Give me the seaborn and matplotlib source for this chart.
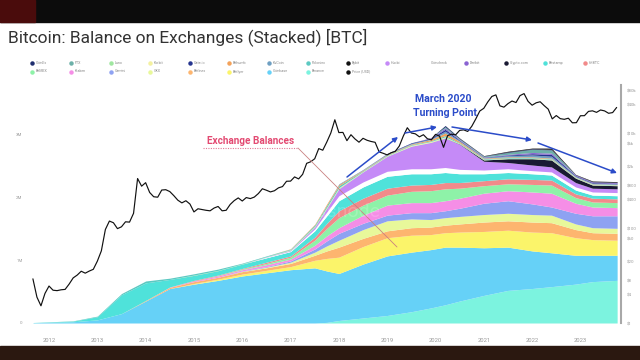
import numpy as np
import matplotlib
matplotlib.use("Agg")
import matplotlib.pyplot as plt
from matplotlib.lines import Line2D
from matplotlib.patches import Rectangle
import seaborn as sns

# ---------------- data ----------------
years = [2012, 2013, 2014, 2015, 2016, 2017, 2018, 2019, 2020, 2021, 2022, 2023]
year_labels = [str(y) for y in years]

# sample dates (decimal years) for the exchange balance stack, values in million BTC
bal_t = [2011.67, 2012.5, 2013.0, 2013.5, 2014.0, 2014.5, 2015.0, 2015.5, 2016.0,
         2016.5, 2017.0, 2017.5, 2017.75, 2018.0, 2018.5, 2019.0, 2019.5, 2019.9,
         2020.2, 2020.5, 2021.0, 2021.5, 2022.0, 2022.4, 2022.9, 2023.25, 2023.76]

binance = [0] * 12 + [0.01, 0.04, 0.08, 0.12, 0.18, 0.24, 0.29, 0.35, 0.44, 0.52,
                      0.55, 0.58, 0.62, 0.66, 0.68]
coinbase = [0.005, 0.02, 0.05, 0.15, 0.35, 0.55, 0.62, 0.68, 0.75, 0.80, 0.85, 0.88,
            0.82, 0.75, 0.86, 0.95, 0.95, 0.93, 0.92, 0.86, 0.76, 0.69, 0.60, 0.54,
            0.46, 0.42, 0.40]
bitflyer = [0] * 6 + [0.01, 0.02, 0.03, 0.04, 0.05, 0.12, 0.20, 0.26, 0.28, 0.29, 0.27,
                      0.24, 0.23, 0.24, 0.26, 0.27, 0.30, 0.32, 0.28, 0.25, 0.24]
bitfinex = [0] * 4 + [0.01, 0.02, 0.03, 0.03, 0.04, 0.04, 0.05, 0.08, 0.12, 0.16, 0.13,
                      0.11, 0.12, 0.12, 0.12, 0.13, 0.15, 0.15, 0.16, 0.16, 0.13, 0.11,
                      0.11]
okx = [0] * 8 + [0.005, 0.01, 0.02, 0.05, 0.08, 0.11, 0.14, 0.16, 0.14, 0.12, 0.12,
                 0.12, 0.12, 0.12, 0.12, 0.12, 0.09, 0.08, 0.08]
gemini = [0] * 8 + [0.005, 0.01, 0.02, 0.05, 0.08, 0.11, 0.10, 0.09, 0.10, 0.11, 0.11,
                    0.13, 0.18, 0.20, 0.17, 0.13, 0.17, 0.19, 0.20]
kraken = [0] * 5 + [0.005, 0.01, 0.02, 0.02, 0.03, 0.03, 0.06, 0.08, 0.09, 0.13, 0.16,
                    0.16, 0.16, 0.16, 0.16, 0.16, 0.16, 0.19, 0.22, 0.16, 0.14, 0.13]
bitmex = [0] * 7 + [0.005, 0.01, 0.02, 0.03, 0.08, 0.12, 0.16, 0.16, 0.16, 0.18, 0.19,
                    0.19, 0.16, 0.12, 0.11, 0.12, 0.13, 0.09, 0.08, 0.08]
hitbtc = [0] * 6 + [0.01, 0.01, 0.01, 0.02, 0.02, 0.05, 0.08, 0.11, 0.11, 0.11, 0.10,
                    0.10, 0.10, 0.09, 0.08, 0.08, 0.08, 0.08, 0.06, 0.06, 0.06]
bitstamp = [0.003, 0.01, 0.05, 0.30, 0.28, 0.12, 0.08, 0.07, 0.07, 0.07, 0.07, 0.10,
            0.12, 0.16, 0.18, 0.19, 0.18, 0.17, 0.16, 0.14, 0.11, 0.10, 0.09, 0.08,
            0.06, 0.05, 0.05]
coincheck = [0] * 9 + [0.01, 0.01, 0.03, 0.06, 0.08, 0.08, 0.08, 0.08, 0.08, 0.08, 0.07,
                       0.06, 0.06, 0.05, 0.05, 0.05, 0.05, 0.05]
huobi = [0] * 9 + [0.005, 0.01, 0.03, 0.06, 0.11, 0.16, 0.24, 0.36, 0.42, 0.47, 0.40,
                   0.14, 0.10, 0.09, 0.08, 0.07, 0.06, 0.06]
crypto_com = [0] * 19 + [0.005, 0.02, 0.06, 0.10, 0.11, 0.07, 0.05, 0.05]
luno = [0] * 6 + [0.005, 0.005, 0.005, 0.005, 0.005, 0.01, 0.01, 0.01, 0.005, 0.005,
                  0.005, 0.005, 0.01, 0.005, 0.005, 0.005, 0.005, 0.005, 0.005, 0.005,
                  0.005]
korbit = [0] * 10 + [0.005, 0.005, 0.01, 0.01, 0.005, 0.005, 0.01, 0.01, 0.01, 0.005,
                     0.005, 0.005, 0.005, 0.005, 0.005, 0.005, 0.005]
poloniex = [0, 0.005, 0.01, 0.02, 0.03, 0.02, 0.02, 0.02, 0.01, 0.01, 0.01, 0.02, 0.03,
            0.03, 0.01, 0.01, 0.01, 0.01, 0.02, 0.01, 0.01, 0.01, 0.01, 0.01, 0.005,
            0.005, 0.005]
bithumb = [0] * 10 + [0.005, 0.01, 0.02, 0.02, 0.01, 0.01, 0.01, 0.02, 0.04, 0.02, 0.01,
                      0.01, 0.01, 0.01, 0.005, 0.005, 0.005]
kucoin = [0] * 13 + [0.01, 0.01, 0.01, 0.01, 0.01, 0.03, 0.01, 0.01, 0.02, 0.03, 0.03,
                     0.01, 0.01, 0.01]
gate_io = [0] * 15 + [0.005, 0.01, 0.01, 0.03, 0.01, 0.005, 0.01, 0.02, 0.03, 0.01,
                      0.01, 0.01]
deribit = [0] * 17 + [0.01, 0.02, 0.01, 0.005, 0.01, 0.02, 0.02, 0.01, 0.01, 0.01]
ftx = [0] * 18 + [0.02, 0.01, 0.01, 0.03, 0.05, 0.05, 0, 0, 0]
coinex = [0] * 18 + [0.02, 0.01, 0.005, 0.01, 0.01, 0.01, 0.005, 0.005, 0.005]
bybit = [0] * 19 + [0.005, 0.005, 0.01, 0.01, 0.02, 0.005, 0.01, 0.01]

# stacking order, bottom to top
stack_names = ["Binance", "Coinbase", "Bitflyer", "Bitfinex", "OKX", "Gemini", "Kraken",
               "BitMEX", "HitBTC", "Bitstamp", "Coincheck", "Huobi", "Crypto.com",
               "Luno", "Korbit", "Poloniex", "Bithumb", "KuCoin", "Gate.io", "Deribit",
               "FTX", "CoinEx", "Bybit"]
stack_values = [binance, coinbase, bitflyer, bitfinex, okx, gemini, kraken, bitmex,
                hitbtc, bitstamp, coincheck, huobi, crypto_com, luno, korbit, poloniex,
                bithumb, kucoin, gate_io, deribit, ftx, coinex, bybit]
stack_colors = ["#7cf3df", "#66d1f7", "#fbf46a", "#fdb56f", "#e8f89a", "#8ea2f2",
                "#f58ee6", "#8ef2a8", "#f28a8a", "#4fe2da", "#ffffff", "#c58af7",
                "#1a1a33", "#9fe6a0", "#f4f1a0", "#5cc9c2", "#f3a25a", "#6e9fc2",
                "#25358f", "#8a63d2", "#6cb0a8", "#1e2e6e", "#111111"]

# BTC price (USD), monthly from Sep 2011 to Oct 2023
price_usd = [8.5, 3.5, 2.3, 4.2,
             6.0, 4.9, 4.8, 5.0, 5.1, 6.6, 8.9, 10.2, 12.3, 11.2, 12.4, 13.5,
             20, 33, 93, 140, 129, 97, 106, 135, 133, 204, 1100, 760,
             900, 560, 455, 445, 630, 640, 585, 480, 385, 338, 375, 320,
             218, 254, 245, 236, 230, 263, 284, 230, 236, 313, 377, 430,
             370, 437, 416, 448, 531, 670, 624, 575, 609, 700, 745, 964,
             970, 1190, 1080, 1350, 2300, 2480, 2870, 4700, 4340, 6450, 10000, 19000,
             10200, 10300, 6900, 9200, 7500, 6400, 7730, 7030, 6630, 6370, 4000, 3740,
             3460, 3850, 4100, 5300, 8600, 12900, 10000, 9600, 8300, 9200, 7550, 7200,
             9350, 8600, 5000, 8800, 9450, 9140, 11350, 11650, 10780, 13800, 19700, 29000,
             33100, 45200, 58800, 63500, 37300, 35000, 41500, 47100, 43800, 61300, 67500, 46300,
             38500, 43200, 45500, 37700, 31800, 19800, 23300, 20050, 19400, 20500, 16400, 16500,
             23100, 23150, 28500, 29300, 27200, 30500, 29200, 26000, 26900, 34500]
price_t = 2011 + 8 / 12 + np.arange(len(price_usd)) / 12

price_ticks = [1, 4, 8, 20, 60, 100, 400, 800, 2000, 6000, 10000, 40000, 80000]
price_labels = ["$1", "$4", "$8", "$20", "$60", "$100", "$400", "$800", "$2k", "$6k",
                "$10k", "$40k", "$80k"]
btc_ticks = [0, 1, 2, 3]
btc_labels = ["0", "1M", "2M", "3M"]

legend_row1 = ["CoinEx", "FTX", "Luno", "Korbit", "Gate.io", "Bithumb", "KuCoin",
               "Poloniex", "Bybit", "Huobi", "Coincheck", "Deribit", "Crypto.com",
               "Bitstamp", "HitBTC"]
legend_row2 = ["BitMEX", "Kraken", "Gemini", "OKX", "Bitfinex", "Bitflyer", "Coinbase",
               "Binance", "Price (USD)"]

# ---------------- figure ----------------
sns.set_theme(style="white")
plt.rcParams["font.family"] = ["Roboto", "DejaVu Sans"]

W, H = 640, 360


def px(x, y):
    # image pixel (top-left origin) -> figure fraction
    return x / W, 1 - y / H


fig = plt.figure(figsize=(6.4, 3.6), dpi=100)
fig.patch.set_facecolor("white")

# dark video frame bands
fig.patches.append(Rectangle((0, 1 - 22 / H), 1, 22 / H, transform=fig.transFigure,
                             color="#0c0c0c", zorder=0))
fig.patches.append(Rectangle((0, 1 - 22 / H), 35 / W, 22 / H, transform=fig.transFigure,
                             color="#4a0c0c", zorder=0))
fig.patches.append(Rectangle((0, 0), 1, 14 / H, transform=fig.transFigure,
                             color="#2b1810", zorder=0))

ax = fig.add_axes([28 / W, 1 - 323 / H, (621 - 28) / W, (323 - 85) / H])
ax.stackplot(bal_t, *stack_values, colors=stack_colors, labels=stack_names, linewidth=0)
ax.set_ylim(0, (323 - 85) / 62.7)
ax.set_xticks(years)
ax.set_xticklabels(year_labels)
ax.set_yticks(btc_ticks)
ax.set_yticklabels(btc_labels)
ax.tick_params(axis="x", length=0, labelsize=4.2, labelcolor="#9a9a9a", pad=11)
ax.tick_params(axis="y", length=0, labelsize=3.2, labelcolor="#9a9a9a", pad=4)
for s in ax.spines.values():
    s.set_visible(False)

ax2 = ax.twinx()
sns.lineplot(x=price_t, y=price_usd, ax=ax2, color="#111111", linewidth=0.85)
ax2.set_yscale("log")
ax2.set_ylim(1, 10 ** ((323 - 85) / 47.5))
ax2.set_yticks(price_ticks)
ax2.set_yticklabels(price_labels)
ax2.yaxis.set_minor_locator(plt.NullLocator())
ax2.tick_params(axis="y", length=0, labelsize=3.2, labelcolor="#9a9a9a", pad=4)
ax2.set_xlabel("")
ax2.set_ylabel("")
for name, s in ax2.spines.items():
    s.set_visible(name == "right")
ax2.spines["right"].set_color("#a8a8a8")
ax2.spines["right"].set_linewidth(1.5)
ax.set_xlim(2011.565, 2023.84)

# title
fig.text(*px(8, 42), "Bitcoin: Balance on Exchanges (Stacked) [BTC]", fontsize=12.5,
         color="#333333", va="baseline", ha="left")

# legend, laid out as in the dashboard
colour_of = dict(zip(stack_names, stack_colors))
colour_of["Price (USD)"] = "#111111"
for row_y, row in ((63, legend_row1), (71.5, legend_row2)):
    for i, name in enumerate(row):
        mx = 31.5 + 39.5 * i
        fig.add_artist(Line2D([mx / W], [1 - row_y / H], marker="o", markersize=2.2,
                              color=colour_of[name], linestyle="none",
                              transform=fig.transFigure))
        fig.text(*px(mx + 4, row_y), name, fontsize=2.6, color="#8a8a8a",
                 va="center", ha="left")

# faint watermark
fig.text(*px(335, 212), "glassnode", fontsize=14, color="white", alpha=0.18,
         ha="center", va="center")

# annotations
blue = "#2b4cc9"
fig.text(*px(443, 99), "March 2020", fontsize=7.6, color=blue, fontweight="bold",
         ha="center", va="center")
fig.text(*px(445, 113), "Turning Point", fontsize=7.6, color=blue, fontweight="bold",
         ha="center", va="center")
for (x0, y0), (x1, y1) in [((347, 177), (398, 137)), ((405, 133), (437, 127)),
                           ((452, 127), (532, 140)), ((538, 143), (617, 173))]:
    ax2.annotate("", xy=px(x1, y1), xytext=px(x0, y0), xycoords="figure fraction",
                 textcoords="figure fraction",
                 arrowprops=dict(arrowstyle="-|>", color=blue, lw=1.1,
                                 mutation_scale=7, shrinkA=0, shrinkB=0))

pink = "#e34a72"
fig.text(*px(251, 141), "Exchange Balances", fontsize=7.2, color=pink,
         fontweight="bold", ha="center", va="center")
fig.add_artist(Line2D([203 / W, 298 / W], [1 - 148 / H, 1 - 148 / H], color="#e07a95",
                      lw=0.8, linestyle=(0, (1, 1.2)), transform=fig.transFigure))
fig.add_artist(Line2D([298 / W, 397 / W], [1 - 148 / H, 1 - 247 / H], color="#c98080",
                      lw=0.6, transform=fig.transFigure))

fig.savefig("out.png", dpi=100)
